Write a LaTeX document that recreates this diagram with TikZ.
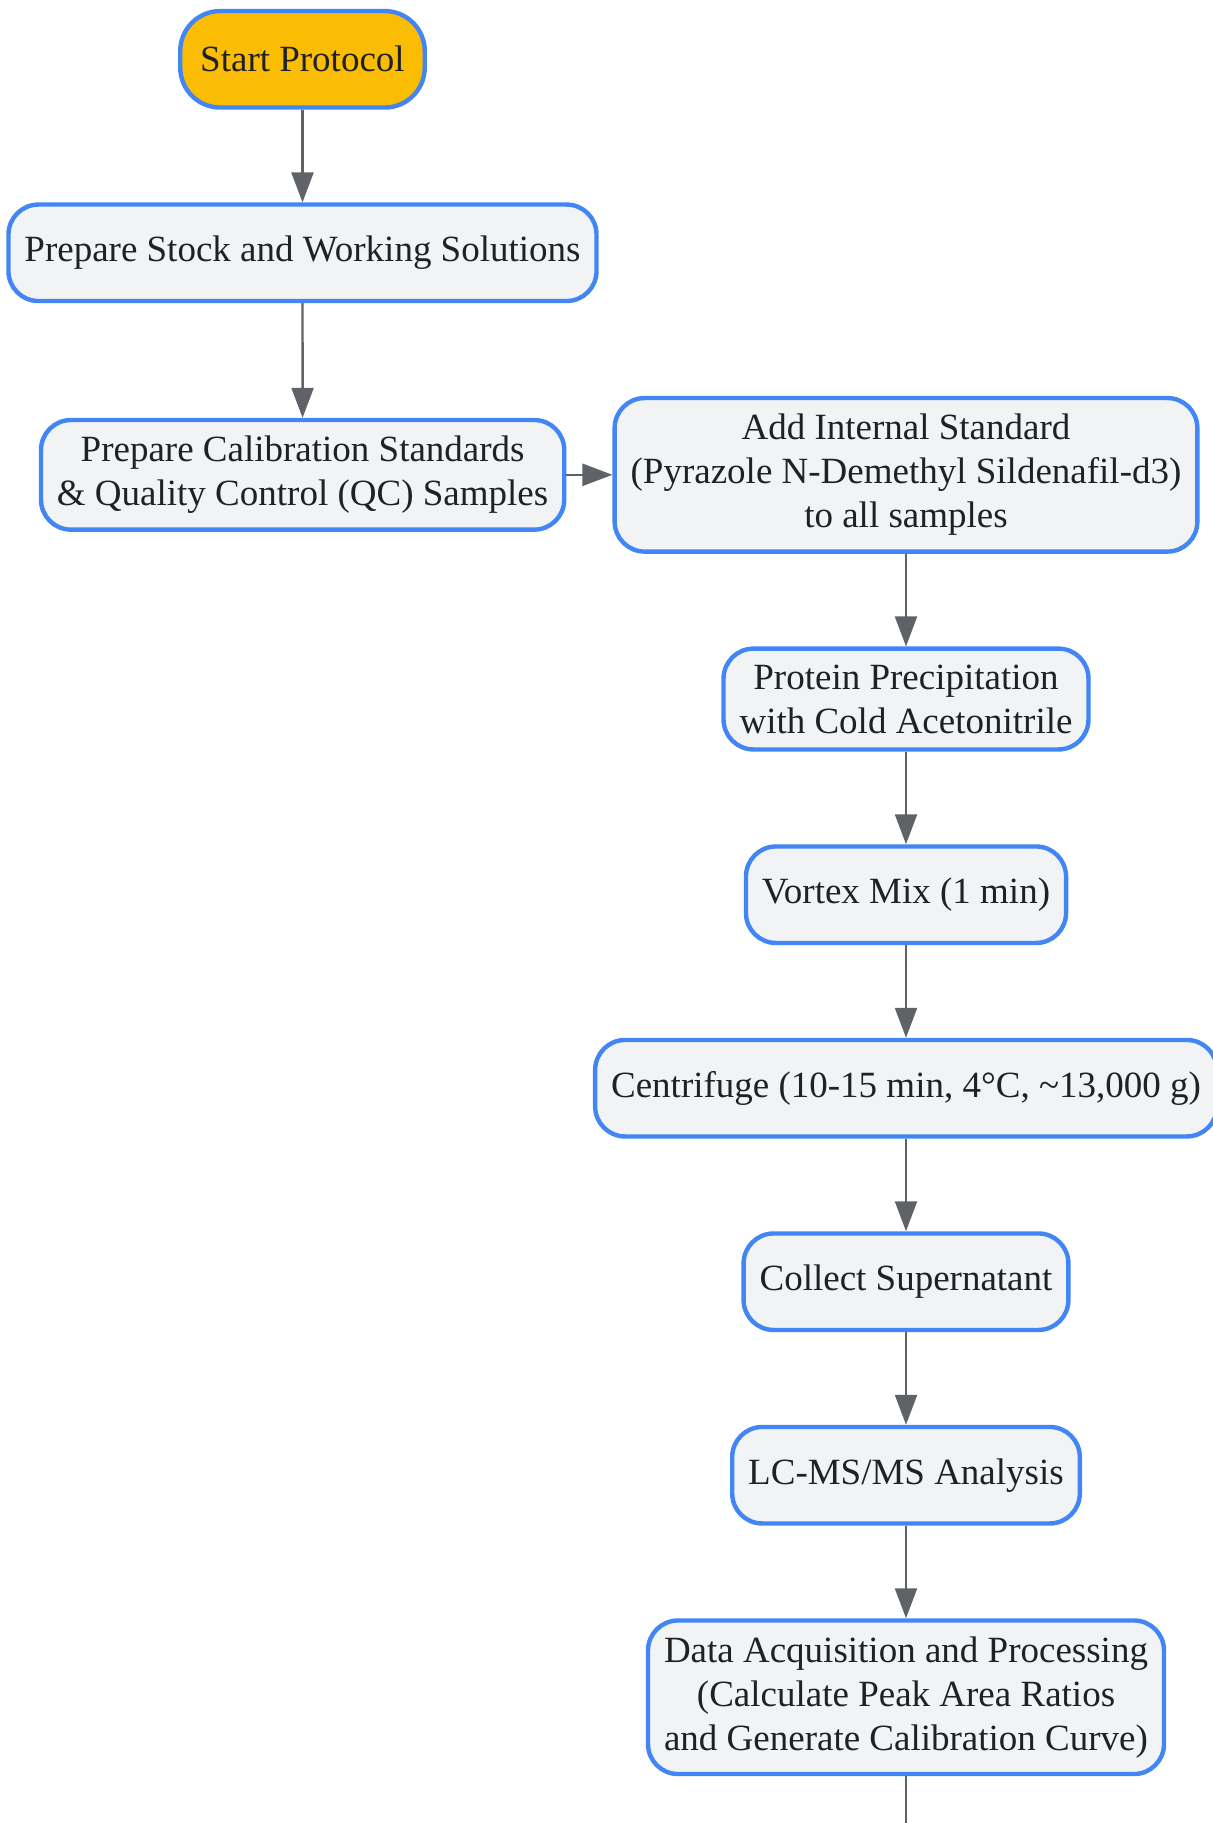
\documentclass[tikz,border=0pt]{standalone}
\usepackage{fontspec}
\setmainfont{Liberation Serif}
\usepackage{tikz}
\usetikzlibrary{arrows.meta, positioning}
\definecolor{boxblue}{RGB}{66,133,244}
\definecolor{boxfill}{RGB}{241,243,244}
\definecolor{startfill}{RGB}{251,188,4}
\definecolor{arrowgray}{RGB}{95,99,104}
\definecolor{textdark}{RGB}{32,33,36}
\tikzset{
  stepbox/.style={
    rectangle, rounded corners=15pt, draw=boxblue, line width=2.2pt,
    fill=boxfill, text=textdark, align=center,
    minimum height=48.25pt, inner xsep=8pt, inner ysep=8pt,
    font=\fontsize{18.5pt}{22pt}\selectfont
  },
  startbox/.style={stepbox, fill=startfill, rounded corners=20pt,
    inner xsep=10pt},
  arr/.style={-{Triangle[length=15pt, width=11pt]}, draw=arrowgray,
    fill=arrowgray, line width=1.2pt}
}

\begin{document}
\begin{tikzpicture}[node distance=46.3pt and 23pt]

  \useasboundingbox (-151.25pt,29.65pt) rectangle (454.75pt,-881.85pt);

  \node[startbox] (start) at (0,0) {Start Protocol};

  \node[stepbox, below=of start] (stock)
        {Prepare Stock and Working Solutions};

  \node[stepbox, below=of stock, xshift=301.75pt] (addis)
        {Add Internal Standard\\(Pyrazole N-Demethyl Sildenafil-d3)\\to all samples};

  \node[stepbox, left=of addis] (calib)
        {Prepare Calibration Standards\\\& Quality Control (QC) Samples};

  \node[stepbox, below=of addis] (protein)
        {Protein Precipitation\\with Cold Acetonitrile};

  \node[stepbox, below=of protein] (vortex) {Vortex Mix (1 min)};

  \node[stepbox, below=of vortex] (centri)
        {Centrifuge (10-15 min, 4°C, \textasciitilde13,000 g)};

  \node[stepbox, below=of centri] (collect) {Collect Supernatant};

  \node[stepbox, below=of collect] (lcms) {LC-MS/MS Analysis};

  \node[stepbox, below=of lcms] (data)
        {Data Acquisition and Processing\\(Calculate Peak Area Ratios\\and Generate Calibration Curve)};

  \coordinate (bottomedge) at (0,-881.85pt);
  \coordinate (tail) at (data.south |- bottomedge);

  \draw[arr] (start)   -- (stock);
  \draw[arr] (stock)   -- (calib);
  \draw[arr] (calib)   -- (addis);
  \draw[arr] (addis)   -- (protein);
  \draw[arr] (protein) -- (vortex);
  \draw[arr] (vortex)  -- (centri);
  \draw[arr] (centri)  -- (collect);
  \draw[arr] (collect) -- (lcms);
  \draw[arr] (lcms)    -- (data);
  \draw[draw=arrowgray, line width=1.2pt] (data) -- (tail);

\end{tikzpicture}
\end{document}
